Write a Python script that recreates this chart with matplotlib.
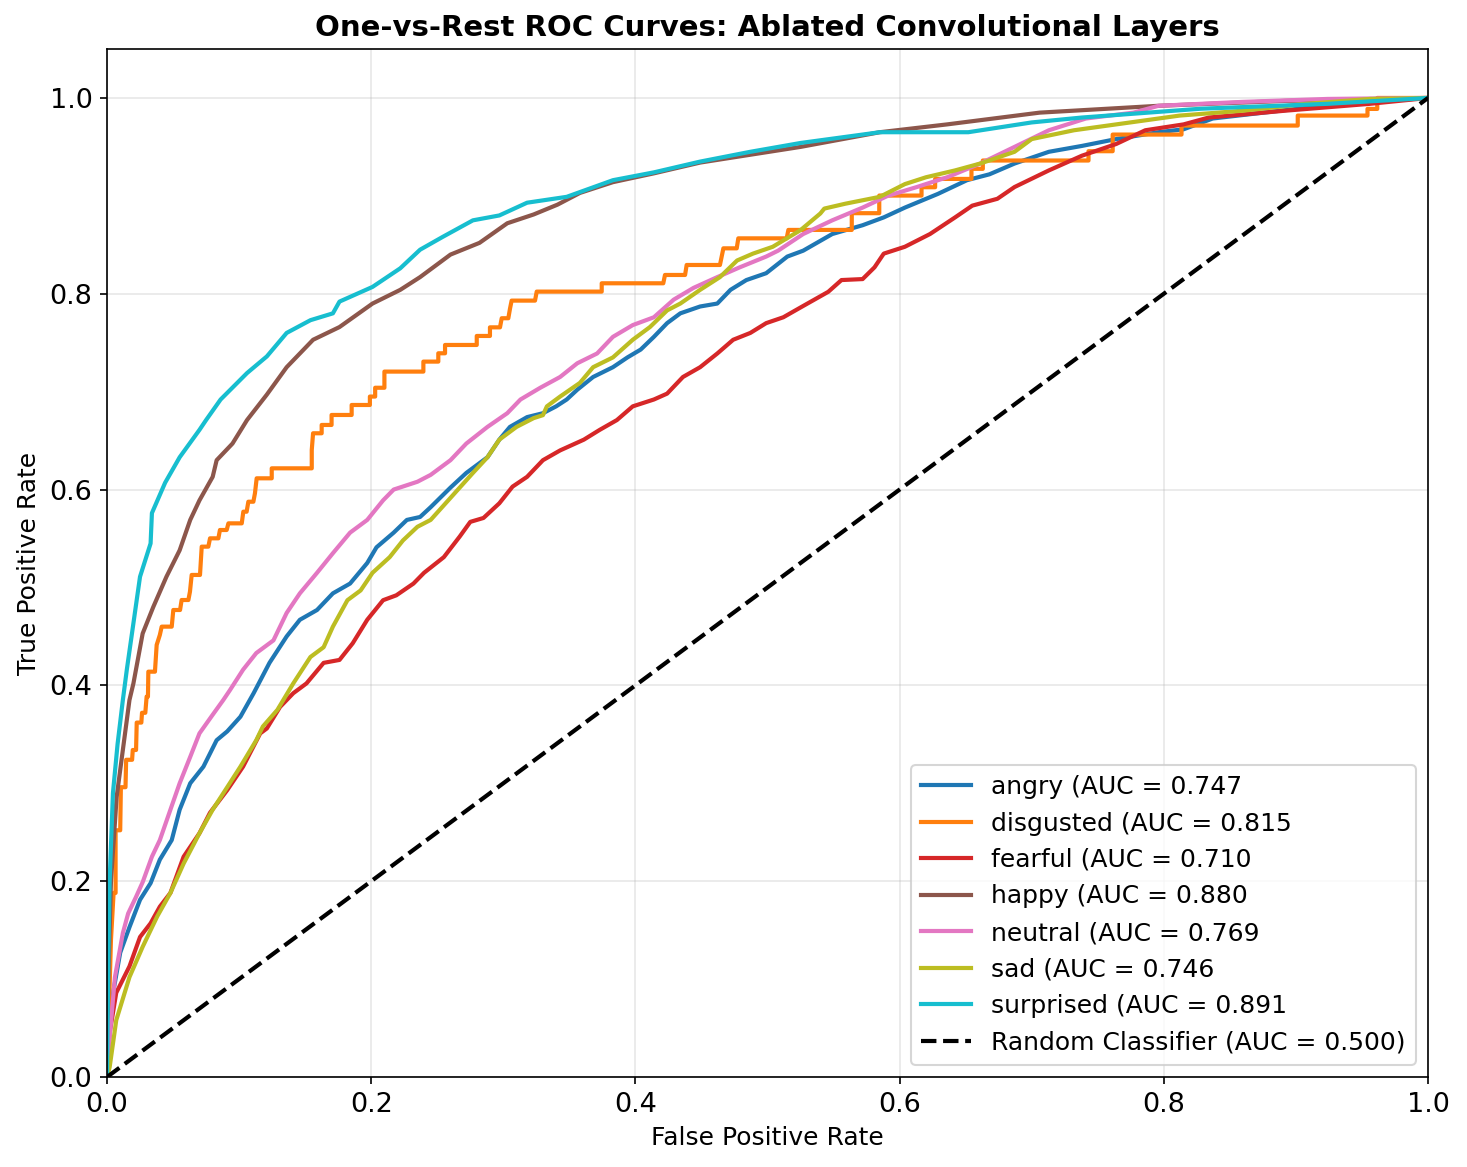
import matplotlib
matplotlib.use("Agg")
import matplotlib.pyplot as plt

classes = ["angry", "disgusted", "fearful", "happy", "neutral", "sad", "surprised"]
aucs = [0.747, 0.815, 0.710, 0.880, 0.769, 0.746, 0.891]
colors = ["#1f77b4", "#ff7f0e", "#d62728", "#8c564b", "#e377c2", "#bcbd22", "#17becf"]

angry_pts = [(0, 0), (0.001, 0.05), (0.005, 0.089), (0.010, 0.127), (0.017, 0.153), (0.025, 0.181),
             (0.033, 0.198), (0.040, 0.222), (0.049, 0.242), (0.055, 0.273), (0.063, 0.300), (0.073, 0.317),
             (0.083, 0.344), (0.091, 0.353), (0.101, 0.368), (0.111, 0.392), (0.123, 0.423), (0.136, 0.450),
             (0.146, 0.467), (0.159, 0.477), (0.171, 0.494), (0.184, 0.504), (0.197, 0.525), (0.204, 0.541),
             (0.217, 0.556), (0.227, 0.569), (0.237, 0.572), (0.245, 0.582), (0.260, 0.602), (0.272, 0.617),
             (0.288, 0.633), (0.297, 0.651), (0.305, 0.664), (0.318, 0.674), (0.330, 0.678), (0.340, 0.685),
             (0.348, 0.692), (0.356, 0.702), (0.368, 0.715), (0.383, 0.725), (0.394, 0.735), (0.404, 0.743),
             (0.414, 0.756), (0.424, 0.770), (0.434, 0.780), (0.449, 0.787), (0.462, 0.790), (0.472, 0.804),
             (0.484, 0.814), (0.499, 0.821), (0.515, 0.838), (0.527, 0.844), (0.549, 0.861), (0.572, 0.870),
             (0.588, 0.878), (0.604, 0.888), (0.629, 0.902), (0.651, 0.916), (0.668, 0.922), (0.687, 0.933),
             (0.713, 0.945), (0.738, 0.951), (0.764, 0.958), (0.796, 0.965), (0.815, 0.968), (0.837, 0.979),
             (0.869, 0.984), (0.908, 0.990), (0.956, 0.996), (1.0, 1.0)]

disgusted_pts = [(0, 0), (0.003, 0.14), (0.005, 0.188), (0.0065, 0.188), (0.0065, 0.252), (0.010, 0.252),
                 (0.0105, 0.296), (0.014, 0.296), (0.0145, 0.324), (0.019, 0.324), (0.0195, 0.334), (0.022, 0.334),
                 (0.0225, 0.362), (0.026, 0.362), (0.0265, 0.372), (0.029, 0.372), (0.030, 0.3885), (0.031, 0.3885),
                 (0.0313, 0.414), (0.0363, 0.414), (0.0376, 0.4413), (0.040, 0.4515), (0.0414, 0.46), (0.049, 0.46),
                 (0.0502, 0.477), (0.0553, 0.477), (0.0565, 0.4872), (0.0616, 0.4872), (0.0628, 0.4957),
                 (0.0641, 0.5128), (0.0704, 0.5128), (0.0717, 0.5417), (0.0767, 0.5417), (0.078, 0.5502),
                 (0.0843, 0.5502), (0.0855, 0.5587), (0.0906, 0.5587), (0.0919, 0.5655), (0.102, 0.5655),
                 (0.1032, 0.5774), (0.1057, 0.5774), (0.107, 0.5876), (0.1108, 0.5876), (0.112, 0.5962),
                 (0.1133, 0.6115), (0.1247, 0.6115), (0.1247, 0.6217), (0.155, 0.6217), (0.155, 0.6404),
                 (0.156, 0.6575), (0.1625, 0.6575), (0.1625, 0.666), (0.170, 0.666), (0.170, 0.6762),
                 (0.1852, 0.6762), (0.1852, 0.6864), (0.199, 0.6864), (0.199, 0.695), (0.203, 0.695),
                 (0.203, 0.704), (0.210, 0.704), (0.210, 0.7205), (0.2395, 0.7205), (0.2395, 0.7307),
                 (0.2508, 0.7307), (0.2508, 0.7392), (0.2559, 0.7392), (0.2559, 0.7477), (0.2799, 0.7477),
                 (0.2799, 0.7569), (0.2899, 0.7569), (0.2899, 0.7657), (0.2975, 0.7657), (0.2988, 0.775),
                 (0.3038, 0.775), (0.3051, 0.785), (0.3063, 0.793), (0.324, 0.793), (0.3253, 0.8022),
                 (0.3745, 0.8022), (0.3745, 0.8107), (0.4211, 0.8107), (0.4224, 0.8192), (0.4376, 0.8192),
                 (0.4388, 0.8294), (0.464, 0.8294), (0.4653, 0.8379), (0.4666, 0.8464), (0.4767, 0.8464),
                 (0.4779, 0.8566), (0.5145, 0.8566), (0.5158, 0.8652), (0.5638, 0.8652), (0.5638, 0.8823),
                 (0.5846, 0.8823), (0.5846, 0.9003), (0.6166, 0.9003), (0.6166, 0.9088), (0.6269, 0.9088),
                 (0.6269, 0.9173), (0.6544, 0.9173), (0.6544, 0.9276), (0.663, 0.9276), (0.663, 0.9361),
                 (0.743, 0.9361), (0.743, 0.9456), (0.7613, 0.9456), (0.7613, 0.9626), (0.8134, 0.9626),
                 (0.8134, 0.9718), (0.9014, 0.9718), (0.9014, 0.982), (0.9542, 0.982), (0.9542, 0.9888),
                 (0.9616, 0.9888), (0.9616, 1.0), (1.0, 1.0)]

fearful_pts = [(0, 0), (0.002, 0.045), (0.007, 0.086), (0.017, 0.113), (0.025, 0.143), (0.033, 0.157),
               (0.040, 0.174), (0.048, 0.188), (0.058, 0.225), (0.070, 0.249), (0.078, 0.270), (0.091, 0.293),
               (0.103, 0.317), (0.116, 0.351), (0.121, 0.356), (0.131, 0.378), (0.141, 0.392), (0.151, 0.402),
               (0.164, 0.423), (0.176, 0.426), (0.186, 0.443), (0.197, 0.467), (0.209, 0.487), (0.219, 0.492),
               (0.232, 0.504), (0.240, 0.515), (0.255, 0.531), (0.267, 0.552), (0.275, 0.567), (0.285, 0.571),
               (0.297, 0.586), (0.307, 0.603), (0.318, 0.613), (0.330, 0.630), (0.343, 0.640), (0.361, 0.651),
               (0.373, 0.661), (0.386, 0.671), (0.398, 0.685), (0.414, 0.692), (0.424, 0.698), (0.436, 0.715),
               (0.449, 0.725), (0.462, 0.739), (0.474, 0.753), (0.487, 0.760), (0.499, 0.770), (0.512, 0.776),
               (0.525, 0.786), (0.546, 0.802), (0.556, 0.814), (0.572, 0.815), (0.581, 0.827), (0.588, 0.841),
               (0.604, 0.848), (0.623, 0.861), (0.642, 0.878), (0.655, 0.890), (0.674, 0.897), (0.687, 0.909),
               (0.713, 0.926), (0.738, 0.941), (0.764, 0.953), (0.786, 0.967), (0.815, 0.973), (0.834, 0.980),
               (0.892, 0.987), (0.956, 0.994), (1.0, 1.0)]

happy_pts = [(0, 0), (0.001, 0.10), (0.003, 0.20), (0.0073, 0.286), (0.012, 0.334), (0.017, 0.385),
             (0.020, 0.402), (0.027, 0.453), (0.035, 0.480), (0.045, 0.511), (0.055, 0.538), (0.063, 0.569),
             (0.070, 0.589), (0.080, 0.613), (0.083, 0.630), (0.095, 0.647), (0.106, 0.671), (0.121, 0.697),
             (0.136, 0.725), (0.156, 0.753), (0.176, 0.766), (0.201, 0.790), (0.222, 0.804), (0.237, 0.817),
             (0.260, 0.840), (0.282, 0.852), (0.303, 0.872), (0.323, 0.881), (0.341, 0.891), (0.358, 0.903),
             (0.383, 0.914), (0.414, 0.923), (0.449, 0.934), (0.487, 0.942), (0.525, 0.950), (0.585, 0.965),
             (0.636, 0.973), (0.706, 0.985), (0.796, 0.992), (0.892, 0.997), (1.0, 1.0)]

neutral_pts = [(0, 0), (0.002, 0.04), (0.006, 0.102), (0.012, 0.147), (0.016, 0.167), (0.022, 0.184),
               (0.027, 0.199), (0.034, 0.225), (0.040, 0.242), (0.048, 0.273), (0.055, 0.300), (0.063, 0.327),
               (0.070, 0.351), (0.080, 0.370), (0.088, 0.385), (0.093, 0.395), (0.103, 0.416), (0.113, 0.433),
               (0.126, 0.446), (0.136, 0.474), (0.146, 0.494), (0.159, 0.515), (0.171, 0.535), (0.184, 0.556),
               (0.197, 0.569), (0.209, 0.589), (0.217, 0.600), (0.235, 0.608), (0.245, 0.615), (0.260, 0.630),
               (0.272, 0.647), (0.288, 0.664), (0.303, 0.678), (0.313, 0.692), (0.328, 0.704), (0.343, 0.715),
               (0.356, 0.729), (0.371, 0.739), (0.383, 0.756), (0.398, 0.768), (0.414, 0.776), (0.429, 0.794),
               (0.444, 0.806), (0.462, 0.817), (0.479, 0.827), (0.499, 0.838), (0.508, 0.844), (0.527, 0.861),
               (0.549, 0.875), (0.572, 0.888), (0.591, 0.900), (0.613, 0.909), (0.636, 0.919), (0.661, 0.933),
               (0.687, 0.950), (0.713, 0.967), (0.741, 0.979), (0.777, 0.985), (0.796, 0.992), (0.860, 0.996),
               (0.924, 0.999), (1.0, 1.0)]

sad_pts = [(0, 0), (0.002, 0.010), (0.007, 0.058), (0.017, 0.102), (0.027, 0.133), (0.038, 0.164),
           (0.048, 0.188), (0.058, 0.218), (0.070, 0.249), (0.080, 0.273), (0.091, 0.296), (0.101, 0.317),
           (0.113, 0.344), (0.118, 0.358), (0.129, 0.375), (0.141, 0.402), (0.154, 0.429), (0.164, 0.439),
           (0.171, 0.460), (0.182, 0.487), (0.192, 0.497), (0.201, 0.515), (0.214, 0.531), (0.224, 0.548),
           (0.235, 0.562), (0.245, 0.569), (0.267, 0.602), (0.277, 0.617), (0.288, 0.633), (0.297, 0.651),
           (0.310, 0.664), (0.323, 0.673), (0.330, 0.676), (0.333, 0.685), (0.343, 0.695), (0.358, 0.709),
           (0.368, 0.725), (0.383, 0.735), (0.398, 0.753), (0.411, 0.766), (0.424, 0.783), (0.434, 0.790),
           (0.449, 0.804), (0.464, 0.817), (0.477, 0.834), (0.489, 0.841), (0.504, 0.848), (0.525, 0.865),
           (0.540, 0.882), (0.543, 0.887), (0.559, 0.892), (0.585, 0.899), (0.604, 0.912), (0.620, 0.919),
           (0.642, 0.926), (0.661, 0.933), (0.687, 0.945), (0.700, 0.958), (0.732, 0.967), (0.764, 0.973),
           (0.812, 0.982), (0.860, 0.987), (0.908, 0.994), (0.956, 0.999), (1.0, 1.0)]

surprised_pts = [(0, 0), (0.001, 0.12), (0.002, 0.20), (0.0045, 0.29), (0.008, 0.34), (0.012, 0.385),
                 (0.015, 0.416), (0.025, 0.511), (0.033, 0.545), (0.034, 0.576), (0.044, 0.607), (0.055, 0.633),
                 (0.070, 0.661), (0.075, 0.671), (0.086, 0.692), (0.106, 0.719), (0.121, 0.736), (0.136, 0.760),
                 (0.154, 0.773), (0.171, 0.780), (0.176, 0.792), (0.201, 0.807), (0.222, 0.826), (0.237, 0.845),
                 (0.254, 0.858), (0.277, 0.875), (0.297, 0.880), (0.318, 0.893), (0.348, 0.899), (0.383, 0.916),
                 (0.414, 0.924), (0.449, 0.935), (0.487, 0.945), (0.525, 0.954), (0.585, 0.965), (0.652, 0.965),
                 (0.700, 0.975), (0.738, 0.980), (0.828, 0.989), (0.924, 0.994), (1.0, 1.0)]

curves = [angry_pts, disgusted_pts, fearful_pts, happy_pts, neutral_pts, sad_pts, surprised_pts]

fig = plt.figure(figsize=(1467 / 150, 1167 / 150), dpi=150)
ax = fig.add_axes([107 / 1467, 1 - 1077 / 1167, (1428 - 107) / 1467, (1077 - 49) / 1167])

for name, auc, col, pts in zip(classes, aucs, colors, curves):
    xs = [p[0] for p in pts]
    ys = [p[1] for p in pts]
    ax.plot(xs, ys, color=col, lw=2, label=f"{name} (AUC = {auc:.3f}")

ax.plot([0, 1], [0, 1], "k--", lw=2, label="Random Classifier (AUC = 0.500)")

ax.set_xlim(0.0, 1.0)
ax.set_ylim(0.0, 1.05)
ax.set_xlabel("False Positive Rate", fontsize=12)
ax.set_ylabel("True Positive Rate", fontsize=12)
ax.set_title("One-vs-Rest ROC Curves: Ablated Convolutional Layers", fontsize=14, fontweight="bold")
ax.tick_params(axis="both", labelsize=13)
ax.grid(True, alpha=0.3)
ax.legend(loc="lower right", fontsize=12)

fig.savefig("out.png", dpi=150)
